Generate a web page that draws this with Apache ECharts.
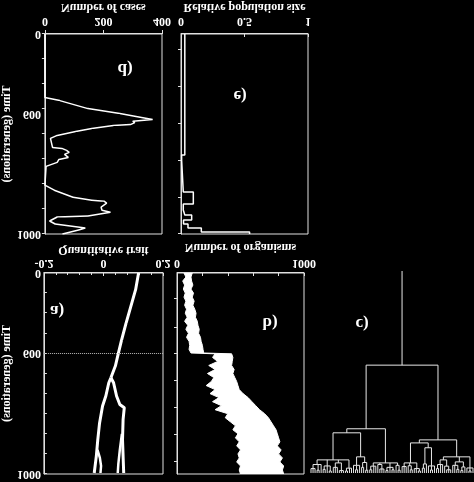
<!DOCTYPE html>
<html><head><meta charset="utf-8">
<script src="https://cdn.jsdelivr.net/npm/echarts@6/dist/echarts.min.js"></script>
<style>html,body{margin:0;padding:0;background:#000;}#chart{width:474px;height:482px;transform:scaleY(-1);}</style>
</head><body><div id="chart"></div>
<script>
// ---------- data ----------
// time axis tick labels
const timeTickValues = [0, 400, 1000];
const timeTickLabels = ['0', '600', '1000'];
// panel d: number of cases over time
const casesTime = [0,317,333,373,398,418,428,436,443,453,458,473,487,497,507,522,567,572,582,592,602,617,627,642,662,756,781,816,831,836,846,866,881,891,910,915,935,950,970,980,995,1000];
const cases     = [0,0,51,147,256,330,368,300,307,292,234,160,105,99,42,19,26,58,74,83,67,80,48,42,4,0,32,96,160,202,211,192,195,224,147,42,16,35,138,115,74,60];
// panel e: relative population size (step histogram)
const popEdges = [0,605,630,790,850,880,905,930,950,970,990,1000];
const popSize  = [0.03,0.005,0.018,0.097,0.018,0.03,0.084,0.02,0.055,0.16,0.54];
// panel a: quantitative trait branches
const trunkTime  = [0,83,166,249,333,400,463,521];
const trunkTrait = [0.118,0.108,0.092,0.076,0.061,0.05,0.04,0.025];
const leftTime   = [521,546,612,662,746,829,912,995];
const leftTrait  = [0.025,0.018,0.008,-0.003,-0.013,-0.019,-0.024,-0.031];
const left2Time  = [880,920,960,995];
const left2Trait = [-0.02,-0.012,-0.008,-0.01];
const rightTime  = [521,546,612,654,670,728,829,912,995];
const rightTrait = [0.025,0.034,0.044,0.055,0.07,0.066,0.064,0.066,0.068];
const right2Time = [800,880,950,995];
const right2Trait= [0.062,0.055,0.05,0.048];
const splitMarkTime = 400;
// panel b: number of organisms (band envelope)
const orgTime = [0,20,40,60,80,100,120,140,160,180,200,220,240,260,280,300,320,340,360,380,398,402,420,440,460,480,500,520,540,560,580,600,620,640,660,680,700,720,740,760,780,800,820,840,860,880,900,920,940,960,980,1000];
const orgLow  = [55,70,45,60,50,65,55,70,60,75,65,80,60,85,70,90,75,95,100,95,110,300,280,320,250,300,240,290,270,230,300,260,330,280,350,300,400,380,420,460,440,480,460,490,470,500,480,490,470,500,490,500];
const orgHigh = [120,110,115,125,110,130,120,135,125,140,150,145,160,165,175,170,185,190,200,205,210,430,440,435,430,450,440,455,470,480,490,520,560,590,620,650,690,720,740,760,780,790,800,810,790,820,800,830,810,840,830,840];
// panel c: dendrogram subtrees [splitTime, children...], 0 = leaf
const bushLLa = [935,[958,[978,0,0,0],[986,0,0],0],[965,[982,0,0],0,[990,0,0]],[950,[972,0,0,0],[988,0,0,0]],[976,[990,0,0],0,0]];
const bushLLb = [920,[962,0,[984,0,0],0],[948,[972,0,0],[986,0,0]]];
const bushLR  = [950,[966,[984,0,0],0,0],[958,0,[980,0,0,0]],[972,[988,0,0],0,[984,0,0]],[962,0,[986,0,0]]];
const bushRLa = [950,[968,0,0,0],[964,0,[984,0,0]],[978,0,0,[990,0,0]]];
const bushRLb = [875,[955,[976,0,0],0],[965,0,[985,0,0],0]];
const bushRR  = [920,[935,[958,[978,0,0],0,0],[966,0,[984,0,0,0]]],[945,[962,0,0,[982,0,0]],[970,[988,0,0],0]],[975,0,[990,0,0],0]];
const treeRoot = [466,[781,[801,bushLLa,bushLLb],bushLR],[836,[851,bushRLa,bushRLb],bushRR]];
const leafTime = 1000;

// ---------- helpers ----------
const serif = '"Liberation Serif","Times New Roman",serif';
const W = '#ffffff', AX = '#e0e0e0';
const txt = {color: W, fontFamily: serif, fontWeight: 'bold', fontSize: 12};
const zip = (xs, ys) => xs.map((x, i) => [x, ys[i]]);

const popPoints = [];
popSize.forEach((v, i) => { popPoints.push([v, popEdges[i]], [v, popEdges[i + 1]]); });

// dendrogram layout
const segs = []; let leafIdx = 0;
function layout(node, parentT) {
  if (node === 0) { const x = leafIdx++; segs.push([[x, parentT], [x, leafTime]]); return x; }
  const t = node[0];
  const xs = node.slice(1).map(c => layout(c, t));
  const x = (xs[0] + xs[xs.length - 1]) / 2;
  segs.push([[xs[0], t], [xs[xs.length - 1], t]]);
  segs.push([[x, parentT], [x, t]]);
  return x;
}
layout(treeRoot, 0);
const nLeaves = leafIdx;

const axLine = {show: true, onZero: false, lineStyle: {color: AX, width: 1}};
const gridBase = {show: true, borderColor: AX, borderWidth: 1, backgroundColor: 'transparent'};

function timeAxis(gi, extra) {
  return Object.assign({
    gridIndex: gi, type: 'value', min: 0, max: 1000,
    axisLine: axLine, splitLine: {show: false},
    axisTick: {show: true, length: 3, lineStyle: {color: AX}},
    axisLabel: {show: false}
  }, extra);
}

const option = {
  backgroundColor: '#000',
  animation: false,
  grid: [
    Object.assign({left: 37, top: 248, width: 125, height: 201}, gridBase),
    Object.assign({left: 181, top: 248, width: 127, height: 201}, gridBase),
    Object.assign({left: 35, top: 8, width: 128, height: 201}, gridBase),
    Object.assign({left: 177, top: 8, width: 127, height: 201}, gridBase),
    {left: 310, top: 9, width: 164, height: 202, show: false}
  ],
  xAxis: [
    {gridIndex: 0, type: 'value', min: 0, max: 400, interval: 200, name: 'Number of cases',
     nameLocation: 'middle', nameGap: 21, nameTextStyle: txt, axisLine: axLine,
     axisTick: {show: true, length: 4, lineStyle: {color: AX}}, axisLabel: Object.assign({margin: 7}, txt), splitLine: {show: false}},
    {gridIndex: 1, type: 'value', min: 0, max: 1, interval: 0.5, name: 'Relative population size',
     nameLocation: 'middle', nameGap: 21, nameTextStyle: txt, axisLine: axLine,
     axisTick: {show: true, inside: true, length: 3, lineStyle: {color: AX}}, axisLabel: Object.assign({margin: 7}, txt), splitLine: {show: false}},
    {gridIndex: 2, type: 'value', min: -0.2, max: 0.2, interval: 0.2, name: 'Quantitative trait',
     nameLocation: 'middle', nameGap: 16, nameTextStyle: txt, axisLine: axLine,
     axisTick: {show: true, inside: true, length: 3, lineStyle: {color: AX}},
     minorTick: {show: true, splitNumber: 5, length: 2, lineStyle: {color: AX}},
     axisLabel: Object.assign({margin: 4}, txt), splitLine: {show: false}},
    {gridIndex: 3, type: 'value', min: 0, max: 1000, interval: 200, name: 'Number of organisms',
     nameLocation: 'middle', nameGap: 20, nameTextStyle: txt, axisLine: axLine,
     axisTick: {show: true, inside: true, length: 3, lineStyle: {color: AX}},
     axisLabel: Object.assign({margin: 4, formatter: v => (v === 0 || v === 1000) ? String(v) : ''}, txt), splitLine: {show: false}},
    {gridIndex: 4, type: 'value', min: -0.5, max: nLeaves - 0.5, show: false}
  ],
  yAxis: [
    timeAxis(0, {name: 'Time (generations)', nameLocation: 'middle', nameGap: 24, nameTextStyle: txt,
      axisTick: {show: true, length: 3, customValues: [0,125,250,375,500,625,750,875,1000], lineStyle: {color: AX}},
      axisLabel: Object.assign({show: true, margin: 4, customValues: timeTickValues,
        formatter: v => timeTickLabels[timeTickValues.indexOf(v)]}, txt)}),
    timeAxis(1, {axisTick: {show: true, length: 3, customValues: [80,265,450,635,820,1000], lineStyle: {color: AX}}}),
    timeAxis(2, {name: 'Time (generations)', nameLocation: 'middle', nameGap: 22, nameTextStyle: txt,
      axisTick: {show: true, inside: true, length: 3, customValues: [0,100,200,300,400,500,600,700,800,900,1000], lineStyle: {color: AX}},
      axisLabel: Object.assign({show: true, margin: 3, customValues: timeTickValues,
        formatter: v => timeTickLabels[timeTickValues.indexOf(v)]}, txt)}),
    timeAxis(3, {axisTick: {show: true, length: 3, customValues: [130,270,400,535,670,805,940], lineStyle: {color: AX}}}),
    {gridIndex: 4, type: 'value', min: 0, max: 1000, show: false}
  ],
  series: [
    {type: 'line', xAxisIndex: 0, yAxisIndex: 0, data: zip(cases, casesTime), showSymbol: false,
     lineStyle: {color: W, width: 1.5}},
    {type: 'line', xAxisIndex: 1, yAxisIndex: 1, data: popPoints, showSymbol: false,
     lineStyle: {color: W, width: 1.5}},
    {type: 'line', xAxisIndex: 2, yAxisIndex: 2, data: zip(trunkTrait, trunkTime), showSymbol: false,
     lineStyle: {color: W, width: 3},
     markLine: {silent: true, symbol: 'none', label: {show: false},
       lineStyle: {color: '#bbbbbb', type: 'dotted', width: 1}, data: [{yAxis: splitMarkTime}]}},
    {type: 'line', xAxisIndex: 2, yAxisIndex: 2, data: zip(leftTrait, leftTime), showSymbol: false, lineStyle: {color: W, width: 3}},
    {type: 'line', xAxisIndex: 2, yAxisIndex: 2, data: zip(left2Trait, left2Time), showSymbol: false, lineStyle: {color: W, width: 2.5}},
    {type: 'line', xAxisIndex: 2, yAxisIndex: 2, data: zip(rightTrait, rightTime), showSymbol: false, lineStyle: {color: W, width: 3}},
    {type: 'line', xAxisIndex: 2, yAxisIndex: 2, data: zip(right2Trait, right2Time), showSymbol: false, lineStyle: {color: W, width: 2.5}},
    {type: 'custom', xAxisIndex: 3, yAxisIndex: 3, data: [[0, 0]], clip: true,
     renderItem: function (params, api) {
       const pts = [];
       for (let i = 0; i < orgTime.length; i++) pts.push(api.coord([orgHigh[i], orgTime[i]]));
       for (let i = orgTime.length - 1; i >= 0; i--) pts.push(api.coord([orgLow[i], orgTime[i]]));
       return {type: 'polygon', shape: {points: pts}, style: {fill: W, stroke: W, lineWidth: 1}};
     }},
    {type: 'lines', coordinateSystem: 'cartesian2d', xAxisIndex: 4, yAxisIndex: 4, polyline: true,
     lineStyle: {color: '#e8e8e8', width: 1, opacity: 1}, data: segs.map(c => ({coords: c}))}
  ],
  graphic: [
    {type: 'text', x: 125, y: 414, style: {text: 'd)', fill: W, font: 'bold 17px "Liberation Serif"', align: 'center', verticalAlign: 'middle'}},
    {type: 'text', x: 240, y: 387, style: {text: 'e)', fill: W, font: 'bold 17px "Liberation Serif"', align: 'center', verticalAlign: 'middle'}},
    {type: 'text', x: 57, y: 172, style: {text: 'a)', fill: W, font: 'bold 17px "Liberation Serif"', align: 'center', verticalAlign: 'middle'}},
    {type: 'text', x: 270, y: 160, style: {text: 'b)', fill: W, font: 'bold 17px "Liberation Serif"', align: 'center', verticalAlign: 'middle'}},
    {type: 'text', x: 362, y: 159, style: {text: 'c)', fill: W, font: 'bold 17px "Liberation Serif"', align: 'center', verticalAlign: 'middle'}}
  ]
};
const chart = echarts.init(document.getElementById('chart'));
chart.setOption(option);
</script>
</body></html>
